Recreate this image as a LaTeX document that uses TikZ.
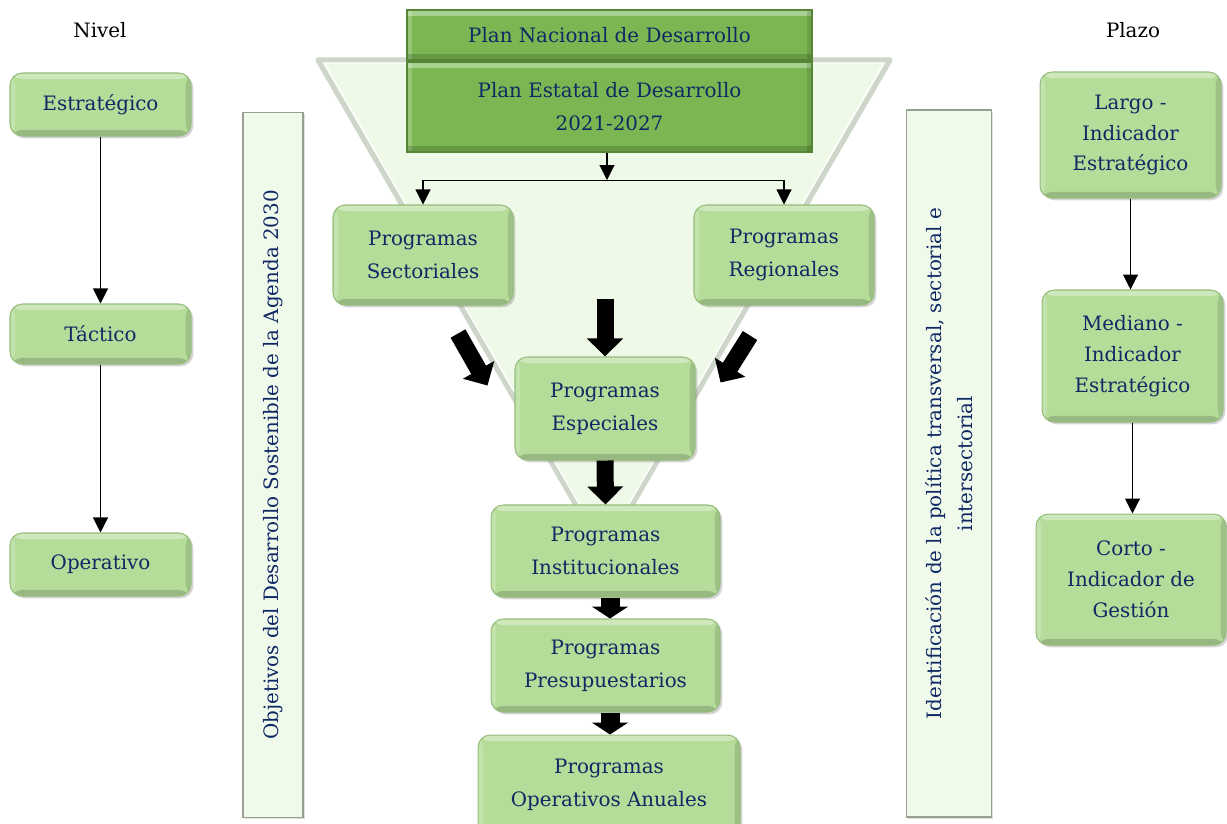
\documentclass[tikz,border=0pt]{standalone}
\usepackage{fontspec}
\setmainfont{DejaVu Serif}
\usetikzlibrary{arrows.meta,positioning,calc,shadows}
\definecolor{LeafGreen}{RGB}{181,220,153}
\definecolor{LeafEdge}{RGB}{150,188,124}
\definecolor{PlanGreen}{RGB}{122,183,82}
\definecolor{PlanEdge}{RGB}{84,134,54}
\definecolor{FunnelFill}{RGB}{238,250,231}
\definecolor{FunnelEdge}{RGB}{205,214,200}
\definecolor{BarFill}{RGB}{240,250,235}
\definecolor{BarEdge}{RGB}{150,160,145}
\definecolor{NavyInk}{RGB}{16,40,100}
\tikzset{
  bevel/.style={path picture={
    \fill[white, opacity=0.35] (path picture bounding box.north west)
      rectangle ([yshift=-3.5pt]path picture bounding box.north east);
    \fill[white, opacity=0.2] (path picture bounding box.north west)
      rectangle ([xshift=3pt]path picture bounding box.south west);
    \fill[black, opacity=0.16] ([yshift=3.5pt]path picture bounding box.south west)
      rectangle (path picture bounding box.south east);
    \fill[black, opacity=0.12] ([xshift=-3pt]path picture bounding box.north east)
      rectangle (path picture bounding box.south east);}},
  lvl/.style={rounded corners=7pt, draw=LeafEdge, line width=0.6pt, fill=LeafGreen, bevel,
    text=NavyInk, align=center, inner sep=2pt, font=\fontsize{11.3}{18.7}\selectfont,
    drop shadow={shadow xshift=1.3pt, shadow yshift=-1.3pt, opacity=0.35}},
  term/.style={lvl, font=\fontsize{11.3}{17.6}\selectfont},
  plan/.style={draw=PlanEdge, line width=0.8pt, fill=PlanGreen, bevel, text=NavyInk,
    align=center, inner sep=2pt, font=\fontsize{11.3}{18.7}\selectfont},
  bar/.style={draw=BarEdge, line width=0.8pt, fill=BarFill, bevel, text=NavyInk,
    align=center, inner sep=2pt, font=\fontsize{11.3}{17.6}\selectfont,
    drop shadow={shadow xshift=1pt, shadow yshift=-1pt, opacity=0.25}},
  head/.style={font=\fontsize{11.3}{13}\selectfont, text=black},
  thinarr/.style={-{Triangle[length=0.3cm, width=0.3cm]}, line width=0.6pt, draw=black},
  blockarr/.style={-{Triangle[length=0.36cm, width=0.7cm]}, line width=0.34cm, draw=black},
  smallblk/.style={-{Triangle[length=0.24cm, width=0.72cm]}, line width=0.38cm, draw=black},
}
\begin{document}
\begin{tikzpicture}[x=0.02cm, y=-0.02cm]
\useasboundingbox (0,0) rectangle (1227,823);
\clip (0,0) rectangle (1227,823);

% ---------------- funnel behind the central column ----------------
\fill[FunnelFill, draw=FunnelEdge, line width=3pt, line join=round]
  (318,60) -- (890,60) -- (604,553) -- cycle;
\draw[white, line width=0.8pt, line join=round] (324,63) -- (884,63) -- (604,547) -- cycle;

% ---------------- headings ----------------
\node[head] (nivel) at (100,30) {Nivel};
\node[head] (plazo) at (1133,30) {Plazo};

% ---------------- level column ----------------
\node[lvl, minimum width=3.62cm, minimum height=1.26cm] (est) at (100.5,104.5) {Estratégico};
\node[lvl, minimum width=3.62cm, minimum height=1.2cm] (tac) at (100.5,334) {Táctico};
\node[lvl, minimum width=3.62cm, minimum height=1.26cm] (ope) at (100.5,564.5) {Operativo};
\draw[thinarr] (est.south) -- (tac.north);
\draw[thinarr] (tac.south) -- (ope.north);

% ---------------- term column ----------------
\node[term, minimum width=3.62cm, minimum height=2.52cm] (lar) at (1130.5,135) {Largo -\\Indicador\\Estratégico};
\node[term, minimum width=3.62cm, minimum height=2.64cm] (med) at (1132.5,356) {Mediano -\\Indicador\\Estratégico};
\node[term, minimum width=3.8cm, minimum height=2.62cm] (cor) at (1131,579.5) {Corto -\\Indicador de\\Gestión};
\draw[thinarr] (lar.south) -- (lar.south |- med.north);
\draw[thinarr] (med.south) -- (med.south |- cor.north);

% ---------------- side bars ----------------
\node[bar, rotate=90, minimum width=14.1cm, minimum height=1.2cm] (ods) at (273,465)
  {Objetivos del Desarrollo Sostenible de la Agenda 2030};
\node[bar, rotate=90, minimum width=14.14cm, minimum height=1.7cm] (ptr) at (949,463.5)
  {Identificación de la política transversal, sectorial e\\intersectorial};

% ---------------- plans ----------------
\node[plan, minimum width=8.1cm, minimum height=1.0cm] (pnd) at (609.5,35) {Plan Nacional de Desarrollo};
\node[plan, minimum width=8.1cm, minimum height=1.8cm] (ped) at (609.5,107) {Plan Estatal de Desarrollo\\2021-2027};

% ---------------- programs ----------------
\node[lvl, minimum width=3.6cm, minimum height=2.0cm] (sec) at (423,255) {Programas\\Sectoriales};
\node[lvl, minimum width=3.6cm, minimum height=2.0cm] (reg) at (784,255) {Programas\\Regionales};
\node[lvl, minimum width=3.6cm, minimum height=2.06cm] (esp) at (605,408.5) {Programas\\Especiales};
\node[lvl, minimum width=4.58cm, minimum height=1.84cm] (ins) at (605.5,551) {Programas\\Institucionales};
\node[lvl, minimum width=4.58cm, minimum height=1.86cm] (pre) at (605.5,665.5) {Programas\\Presupuestarios};
\node[lvl, minimum width=5.24cm, minimum height=2.0cm] (poa) at (609,785) {Programas\\Operativos Anuales};

% fork from the state plan
\coordinate (fork) at (607,180);
\draw[thinarr] (ped.south -| fork) -- (fork);
\draw (sec.north |- fork) -- (reg.north |- fork);
\draw[thinarr] (sec.north |- fork) -- (sec.north);
\draw[thinarr] (reg.north |- fork) -- (reg.north);

% block arrows down the funnel
\draw[blockarr] ([yshift=4pt]esp.north |- sec.south) -- (esp.north);
\draw[blockarr] ($(sec.south)+(35,28)$) -- ($(esp.north west)+(-27,29)$);
\draw[blockarr] ($(reg.south)+(-34,30)$) -- ($(esp.north east)+(25,26)$);
\draw[blockarr] (esp.south) -- (ins.north);
\draw[smallblk] ([xshift=0.09cm]ins.south) -- ([xshift=0.09cm]ins.south |- pre.north);
\draw[smallblk] ([xshift=0.09cm]pre.south) -- ([xshift=0.09cm]pre.south |- poa.north);

\end{tikzpicture}
\end{document}
